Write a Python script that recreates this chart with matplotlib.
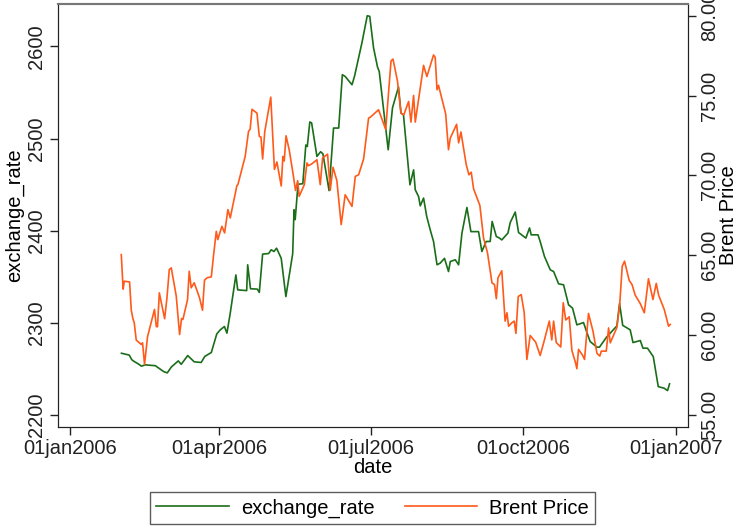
import matplotlib
matplotlib.use("Agg")
import matplotlib.pyplot as plt
import pandas as pd

plt.rcParams['font.family'] = ['Liberation Sans', 'DejaVu Sans']

# days since 01jan2006 and values
fx_days = [31, 33.3, 35.7, 37.2, 38.7, 41.1, 43, 45.3, 51.4, 56.5, 58.6, 61, 65.2, 67, 70.9,
           74.8, 79, 81.2, 85.1, 88.4, 90.5, 93, 94.5, 96.5, 99.9, 101, 106.4, 107, 108.7,
           112.8, 114, 116, 119.6, 121.2, 122.8, 124.4, 127.2, 130, 134.1, 134.9, 135.6,
           137.3, 140.2, 142, 142.9, 144.4, 145.5, 148.7, 150.9, 152.3, 156, 158.7, 161.8,
           164, 165.7, 169.8, 171.3, 175.8, 179, 180.5, 182.8, 185.2, 186.2, 191.6, 194.2,
           197.8, 199.3, 200.8, 204.7, 206.9, 207.9, 209.9, 210.9, 212.9, 214.8, 216.9,
           218.9, 221, 222.9, 225.5, 227.9, 229, 232, 234, 236, 239, 241.4, 246, 248,
           250.6, 253, 254.2, 256.7, 258.6, 260, 263.7, 265.1, 268.1, 270.1, 274.5, 276.7,
           277.7, 281.8, 283.1, 285.7, 289.2, 291.2, 294.2, 297.2, 300.2, 302.6, 305.2,
           309.2, 311.3, 313.2, 317.3, 318.8, 323, 329.3, 330.9, 332.8, 337.3, 339, 343.4,
           345, 347.7, 351.2, 354.2, 357.8, 359.8, 361]
exchange_rate = [2267, 2266, 2265, 2260, 2258, 2255.5, 2253, 2254.4, 2253.5, 2247, 2245.7,
                 2252, 2258.7, 2255, 2264.5, 2257.7, 2257, 2263.6, 2267.8, 2288, 2292.4, 2296,
                 2288.8, 2310.5, 2352, 2335.8, 2335, 2363, 2337, 2336.6, 2333, 2374.6, 2375.2,
                 2379.3, 2377.4, 2381, 2370, 2328.5, 2375, 2422.7, 2412, 2450.4, 2451, 2493,
                 2491.4, 2518, 2517, 2480.6, 2485.7, 2483.5, 2443.5, 2511.4, 2511.4, 2569.3,
                 2567.4, 2558.4, 2567.4, 2604, 2633.3, 2632.6, 2598.3, 2577.4, 2572.9, 2487.8,
                 2533.4, 2556, 2527.7, 2525.8, 2449.8, 2466, 2444.4, 2437, 2427, 2435.4,
                 2415.4, 2401, 2388.3, 2363, 2364.8, 2370, 2355.7, 2366.6, 2368.4, 2363,
                 2397.4, 2425.2, 2399, 2399, 2377.4, 2388.3, 2388.3, 2410, 2393.7, 2392, 2390,
                 2397.4, 2409, 2420.2, 2398, 2392, 2403, 2395.5, 2395.5, 2388.3, 2372, 2357.5,
                 2355.7, 2342.3, 2341.3, 2319.5, 2316, 2297.8, 2300.3, 2289.2, 2279.7, 2273.6,
                 2273.6, 2284.3, 2296.7, 2321, 2297.3, 2292.4, 2278.6, 2280.8, 2272.5, 2272.5,
                 2263.4, 2230.8, 2229, 2226.5, 2233.8]

brent_days = [30.9, 32, 32.7, 35.9, 36.9, 37.9, 38.7, 39.9, 42.9, 43.7, 44.9, 46.7, 50.9, 52,
              52.7, 53.8, 57, 58.4, 59.8, 61, 64, 66, 67.2, 68, 70.8, 71.8, 73, 74.8, 78,
              79.8, 81, 82.5, 85.1, 86.5, 88.1, 89, 90.5, 91.5, 93.1, 95.1, 96.5, 100.5,
              101.1, 105.5, 107.5, 108.5, 109.6, 112.6, 114, 115, 116, 117.3, 120.9, 123.1,
              124.6, 127.2, 128.2, 129, 130.1, 132, 134.1, 135.8, 137.1, 138, 139.3, 141.1,
              142.7, 143.6, 145.7, 148.7, 150.7, 152.1, 155.1, 156.7, 158.4, 160.7, 163.3,
              165.7, 169.8, 171.8, 173.8, 176.8, 179.8, 180.8, 185.8, 190.1, 193.3, 194.5,
              197.2, 199.3, 201, 203.9, 205.3, 206.9, 207.9, 212.9, 214.9, 218.9, 219.9, 221,
              221.9, 226.2, 227.9, 229, 232.8, 234, 235.4, 238.6, 240.2, 241.6, 243, 246.8,
              249, 251.4, 254.1, 255.6, 256.7, 257.7, 260, 262, 263.1, 264.1, 266.1, 267.5,
              268.5, 269.9, 271.7, 273.5, 275.1, 277.1, 280.4, 283.1, 285.3, 288.6, 290.1,
              291.2, 292.8, 295.5, 297, 298.5, 300.6, 302.2, 304.4, 305.2, 306.2, 308.7,
              309.8, 312.2, 314.9, 317.3, 319, 319.9, 322.9, 324.3, 325.3, 329.3, 331, 332.5,
              333.9, 336.7, 338.4, 340.3, 343.4, 345.8, 348.3, 351, 353, 354.4, 357.8, 360.4,
              361.4]
brent_price = [65.04, 62.88, 63.38, 63.33, 61.57, 61.03, 60.78, 59.69, 59.42, 59.52, 58.17,
               59.9, 61.61, 60.53, 60.53, 62.65, 61.03, 62.34, 64.11, 64.21, 62.44, 60.04,
               61.04, 60.98, 62.23, 64.0, 62.96, 63.28, 62.34, 61.56, 63.44, 63.59, 63.65,
               65.04, 66.5, 65.98, 66.5, 66.81, 66.4, 67.86, 67.34, 69.36, 69.42, 71.19,
               72.75, 72.9, 74.14, 73.9, 72.44, 72.4, 71.03, 72.75, 74.9, 70.38, 70.84, 69.34,
               71.19, 70.9, 72.48, 71.6, 70.25, 69.06, 69.67, 68.69, 69.0, 69.42, 70.78,
               70.61, 70.73, 70.98, 69.42, 71.09, 71.33, 69.07, 70.51, 69.67, 66.92, 68.79,
               68.06, 69.94, 70.04, 71.03, 73.59, 73.64, 74.11, 72.88, 77.17, 77.28, 75.9,
               73.9, 73.79, 74.63, 73.34, 75.01, 73.34, 76.89, 76.19, 77.54, 77.39, 75.36,
               75.64, 73.86, 71.61, 72.34, 73.2, 72.04, 72.72, 70.67, 70.04, 70.2, 69.17,
               68.12, 66.09, 65.15, 63.27, 63.17, 62.28, 63.59, 64.03, 60.88, 61.4, 60.56,
               60.78, 60.88, 60.11, 62.42, 62.54, 61.4, 58.48, 59.98, 59.56, 58.73, 59.56,
               60.88, 59.7, 60.88, 59.54, 59.26, 62.03, 60.95, 61.15, 59.04, 58.27, 57.9,
               59.11, 58.73, 58.48, 61.36, 60.25, 58.86, 58.69, 59.0, 59.0, 60.45, 59.52,
               60.48, 61.92, 64.31, 64.63, 63.43, 63.17, 62.51, 61.97, 61.4, 63.53, 62.23,
               63.24, 62.51, 61.61, 60.56, 60.67]

x_ticks = ["2006-01-01", "2006-04-01", "2006-07-01", "2006-10-01", "2007-01-01"]
x_labels = ["01jan2006", "01apr2006", "01jul2006", "01oct2006", "01jan2007"]
left_ticks = [2200, 2300, 2400, 2500, 2600]
right_ticks = [55, 60, 65, 70, 75, 80]

base = pd.Timestamp("2006-01-01")
fx_dates = base + pd.to_timedelta(fx_days, unit="D")
brent_dates = base + pd.to_timedelta(brent_days, unit="D")

green = "#1a6e1a"
orange = "#ff5a1a"
fs = 14.5

fig = plt.figure(figsize=(7.38, 5.29), dpi=100)
ax = fig.add_axes([0.0786, 0.1934, 0.8534, 0.799])
ax2 = ax.twinx()

l1, = ax.plot(fx_dates, exchange_rate, color=green, lw=1.2, label="exchange_rate")
l2, = ax2.plot(brent_dates, brent_price, color=orange, lw=1.2, label="Brent Price")

ax.set_xlim(base - pd.Timedelta(days=7.2), base + pd.Timedelta(days=372))
ax.set_ylim(2187.3, 2646)
ax2.set_ylim(54.27, 80.73)

ax.set_xticks(pd.to_datetime(x_ticks))
ax.set_xticklabels(x_labels, fontsize=fs)
ax.set_yticks(left_ticks)
ax.set_yticklabels([str(v) for v in left_ticks], fontsize=fs, rotation=90, va="center")
ax2.set_yticks(right_ticks)
ax2.set_yticklabels(["%.2f" % v for v in right_ticks], fontsize=fs, rotation=90, va="center")

ax.set_xlabel("date", fontsize=fs, labelpad=0)
ax.set_ylabel("exchange_rate", fontsize=fs, labelpad=2)
ax2.set_ylabel("Brent Price", fontsize=fs, labelpad=0)

for a in (ax, ax2):
    a.tick_params(direction="out", length=6, width=1, colors="#222222", pad=3)
    for s in a.spines.values():
        s.set_color("#222222")
    a.spines["top"].set_color("#777777")
    a.spines["top"].set_linewidth(1.5)

fig.legend([l1, l2], ["exchange_rate", "Brent Price"], loc="upper center",
           bbox_to_anchor=(0.505, 0.069), borderaxespad=0, ncol=2, fontsize=fs,
           frameon=True, fancybox=False, edgecolor="#333333", handlelength=3.6,
           columnspacing=1.5, borderpad=0.3, handletextpad=0.6)

fig.savefig("out.png", dpi=100)
